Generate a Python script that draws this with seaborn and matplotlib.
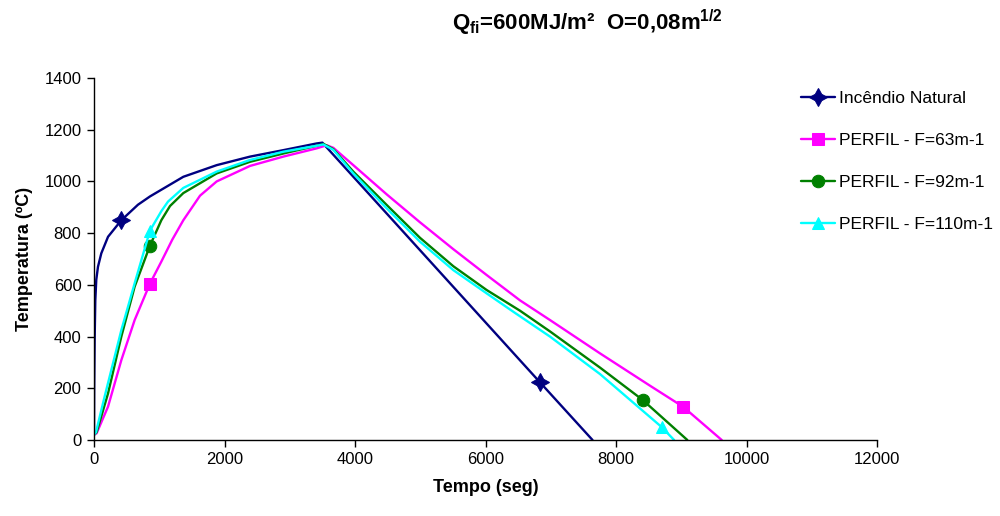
import pandas as pd
import numpy as np
import matplotlib.pyplot as plt
import seaborn as sns

sns.set_theme(style="white")
plt.rcParams["font.family"] = ["Liberation Sans", "DejaVu Sans"]
plt.rcParams["mathtext.default"] = "regular"
plt.rcParams["text.color"] = "black"
plt.rcParams["axes.labelcolor"] = "black"
plt.rcParams["xtick.color"] = "black"
plt.rcParams["ytick.color"] = "black"

# Incêndio Natural
t_nat = [0, 3, 10, 20, 35, 61, 112, 215, 419, 674, 858, 1369, 1880, 2391,
         2901, 3413, 3500, 6835, 7640]
T_nat = [20, 200, 390, 540, 620, 670, 722, 786, 850, 910, 942, 1018, 1063, 1096,
         1121, 1147, 1150, 223, 0]

# PERFIL - F=63m-1
t_63 = [0, 40, 215, 419, 623, 858, 1032, 1200, 1369, 1625, 1880, 2391, 2901,
        3413, 3566, 3668, 3974, 4486, 4996, 5507, 6018, 6529, 6988, 7755,
        8521, 9031, 9620]
T_63 = [20, 26, 129, 309, 464, 605, 690, 775, 850, 945, 1000, 1060, 1096,
        1128, 1140, 1130, 1063, 950, 842, 738, 638, 540, 464, 335,
        210, 128, 0]

# PERFIL - F=92m-1
t_92 = [0, 40, 215, 419, 623, 858, 1032, 1165, 1369, 1880, 2391, 2901, 3413,
        3520, 3668, 3974, 4486, 4996, 5507, 6018, 6529, 6988, 7755, 8408, 9093]
T_92 = [20, 30, 180, 400, 593, 752, 850, 905, 955, 1031, 1076, 1108, 1138,
        1145, 1125, 1038, 909, 782, 672, 580, 500, 420, 280, 155, 0]

# PERFIL - F=110m-1
t_110 = [0, 30, 163, 419, 623, 858, 1032, 1134, 1369, 1880, 2391, 2901, 3413,
         3515, 3668, 3974, 4486, 4996, 5507, 6018, 6426, 6988, 7755, 8700, 8890]
T_110 = [20, 30, 168, 425, 606, 810, 885, 922, 975, 1038, 1083, 1115, 1138,
         1143, 1122, 1031, 896, 767, 657, 567, 496, 400, 255, 50, 0]

series = [
    ("Incêndio Natural", t_nat, T_nat, "#000080", (4, 1, 0), 13, [8, 17]),
    ("PERFIL - F=63m-1", t_63, T_63, "#FF00FF", "s", 9, [5, 25]),
    ("PERFIL - F=92m-1", t_92, T_92, "#008000", "o", 9, [5, 23]),
    ("PERFIL - F=110m-1", t_110, T_110, "#00FFFF", "^", 9, [5, 23]),
]

fig = plt.figure(figsize=(10, 5.16), dpi=100)
ax = fig.add_axes([0.094, 0.1473, 0.783, 0.7015])

for label, t, T, colour, marker, ms, every in series:
    df = pd.DataFrame({"t": t, "T": T})
    sns.lineplot(data=df, x="t", y="T", ax=ax, color=colour, linewidth=1.7,
                 marker=marker, markersize=ms, markevery=every,
                 markeredgecolor=colour, label=label)

ax.set_xlim(0, 12000)
ax.set_ylim(0, 1400)
ax.set_xticks(np.arange(0, 12001, 2000))
ax.set_yticks(np.arange(0, 1401, 200))
ax.tick_params(axis="both", direction="out", length=5, width=1, color="black",
               labelsize=12, bottom=True, left=True, pad=4)
for s in ["top", "right"]:
    ax.spines[s].set_visible(False)
for s in ["left", "bottom"]:
    ax.spines[s].set_color("black")
    ax.spines[s].set_linewidth(1)

ax.set_xlabel("Tempo (seg)", fontweight="bold", fontsize=13, labelpad=8)
ax.set_ylabel("Temperatura (ºC)", fontweight="bold", fontsize=13, labelpad=8)

fig.text(0.587, 0.955, r"Q$_{fi}$=600MJ/m²  O=0,08m$^{1/2}$", ha="center",
         va="center", fontweight="bold", fontsize=16)

leg = ax.legend(loc="upper left", bbox_to_anchor=(0.785, 0.854),
                bbox_transform=fig.transFigure, frameon=False, fontsize=12.5,
                labelspacing=1.55, handlelength=2.0, handletextpad=0.2)

fig.savefig("out.png", dpi=100, facecolor="white")
